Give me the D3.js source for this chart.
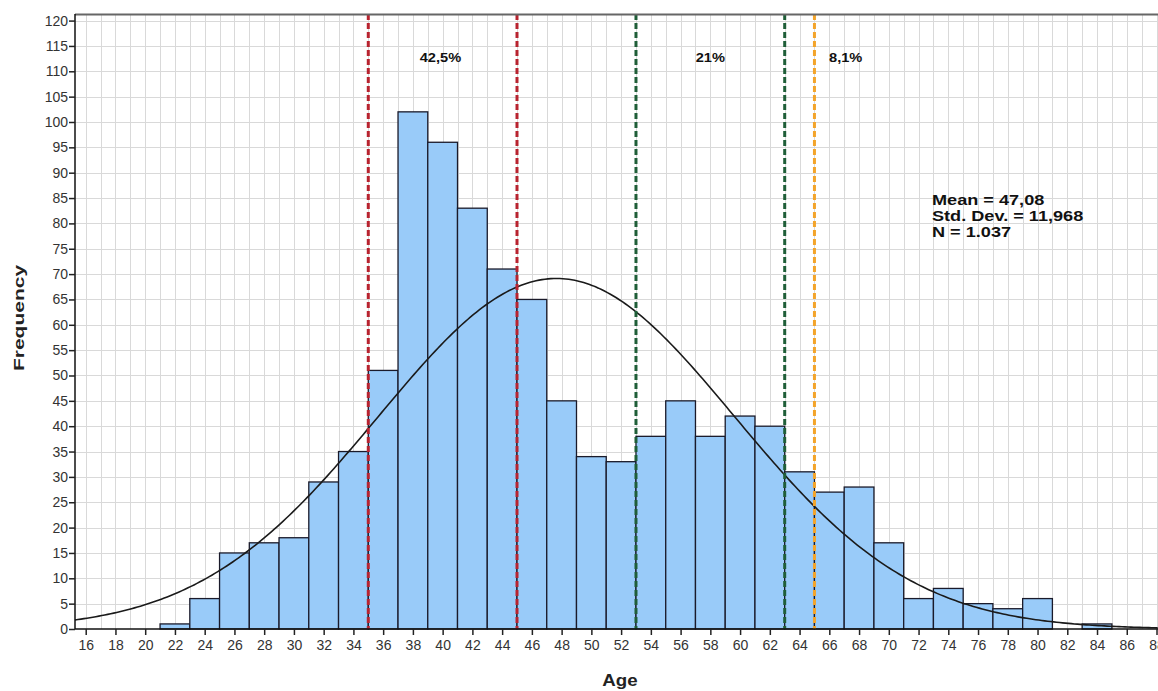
<!DOCTYPE html>
<html>
<head>
<meta charset="utf-8">
<script src="https://cdn.jsdelivr.net/npm/d3@7"></script>
<style>
  body { margin: 0; background: #fff; }
  svg { display: block; font-family: "Liberation Sans", Arial, sans-serif; }
</style>
</head>
<body>
<svg></svg>
<script>
// histogram bins (age, width 2) and their counts
let binStarts = [21, 23, 25, 27, 29, 31, 33, 35, 37, 39, 41, 43, 45, 47, 49, 51, 53, 55, 57, 59, 61, 63, 65, 67, 69, 71, 73, 75, 77, 79, 81, 83];
let counts = [1, 6, 15, 17, 18, 29, 35, 51, 102, 96, 83, 71, 65, 45, 34, 33, 38, 45, 38, 42, 40, 31, 27, 28, 17, 6, 8, 5, 4, 6, 0, 1];
let binWidth = 2;

let mean = 47.08;
let stdDev = 11.968;
let n = 1037;
let statLines = ['Mean = 47,08', 'Std. Dev. = 11,968', 'N = 1.037'];
// the drawn curve peaks a bit right of the printed mean in the picture
let curvePeak = 47.65;

// reference lines and the shares written between them
let refLines = [
    { age: 35, color: '#b8232f' },
    { age: 45, color: '#b8232f' },
    { age: 53, color: '#1f5e38' },
    { age: 63, color: '#1f5e38' },
    { age: 65, color: '#f3a42a' }
];
let shareLabels = [
    { age: 39.85, text: '42,5%' },
    { age: 58.0, text: '21%' },
    { age: 67.1, text: '8,1%' }
];

let xTicks = d3.range(16, 89, 2);
let yTicks = d3.range(0, 121, 5);

let width = 1158;
let height = 691;
let plotLeft = 75, plotRight = 1158, plotTop = 14, plotBottom = 629;
let stretch = 1.22; // text in the picture is drawn wide

let svg = d3.select('svg').attr('width', width).attr('height', height);

let xScale = d3.scaleLinear().domain([15.28, 88.1]).range([plotLeft, plotRight]);
let yScale = d3.scaleLinear().domain([0, 121.3]).range([plotBottom, plotTop]);

// grid: vertical every year, horizontal every 5
let grid = svg.append('g').attr('stroke', '#d9d9d9').attr('stroke-width', 1);
grid.selectAll('line.v')
    .data(d3.range(16, 89, 1))
    .enter().append('line')
    .attr('x1', d => Math.round(xScale(d)) + 0.5)
    .attr('x2', d => Math.round(xScale(d)) + 0.5)
    .attr('y1', plotTop).attr('y2', plotBottom);
grid.selectAll('line.h')
    .data(yTicks.filter(d => d > 0))
    .enter().append('line')
    .attr('x1', plotLeft).attr('x2', plotRight)
    .attr('y1', d => Math.round(yScale(d)) + 0.5)
    .attr('y2', d => Math.round(yScale(d)) + 0.5);

// bars
svg.append('g').selectAll('rect')
    .data(binStarts.map((s, i) => ({ start: s, count: counts[i] })).filter(d => d.count > 0))
    .enter().append('rect')
    .attr('x', d => xScale(d.start))
    .attr('width', d => xScale(d.start + binWidth) - xScale(d.start))
    .attr('y', d => yScale(d.count))
    .attr('height', d => yScale(0) - yScale(d.count))
    .attr('fill', '#99cbf9')
    .attr('stroke', '#1a1a2a')
    .attr('stroke-width', 1.3);

// normal curve fitted from sd and N
let curveXs = d3.range(15.28, 88.11, 0.2);
let normal = x => n * binWidth / (stdDev * Math.sqrt(2 * Math.PI)) * Math.exp(-0.5 * Math.pow((x - curvePeak) / stdDev, 2));
svg.append('path')
    .datum(curveXs)
    .attr('d', d3.line().x(d => xScale(d)).y(d => yScale(normal(d))))
    .attr('fill', 'none')
    .attr('stroke', '#1a1a1a')
    .attr('stroke-width', 1.6);

// dashed reference lines
svg.append('g').selectAll('line')
    .data(refLines)
    .enter().append('line')
    .attr('x1', d => xScale(d.age)).attr('x2', d => xScale(d.age))
    .attr('y1', plotTop).attr('y2', plotBottom)
    .attr('stroke', d => d.color)
    .attr('stroke-width', 3)
    .attr('stroke-dasharray', '6,3');

svg.append('g').selectAll('text')
    .data(shareLabels)
    .enter().append('text')
    .attr('transform', d => 'translate(' + xScale(d.age) + ',62) scale(' + stretch + ',1)')
    .attr('text-anchor', 'middle')
    .attr('font-size', 12)
    .attr('font-weight', 'bold')
    .attr('fill', '#111')
    .text(d => d.text);

// frame
svg.append('line').attr('x1', plotLeft).attr('x2', plotRight).attr('y1', plotTop + 0.5).attr('y2', plotTop + 0.5)
    .attr('stroke', '#666').attr('stroke-width', 2);

// axes
let xAxis = d3.axisBottom(xScale).tickValues(xTicks).tickSize(6).tickSizeOuter(0);
let yAxis = d3.axisLeft(yScale).tickValues(yTicks).tickSize(6).tickSizeOuter(0);

let gx = svg.append('g').attr('transform', 'translate(0,' + plotBottom + ')').call(xAxis);
gx.select('.domain').attr('d', 'M' + plotLeft + ',0H' + plotRight).attr('stroke', '#111').attr('stroke-width', 1.5);
gx.selectAll('.tick line').attr('stroke', '#222').attr('stroke-width', 1.5);
gx.selectAll('.tick text').attr('font-size', 14).attr('fill', '#333').attr('dy', '0.85em')
    .attr('font-family', '"Liberation Sans", Arial, sans-serif');

let gy = svg.append('g').attr('transform', 'translate(' + plotLeft + ',0)').call(yAxis);
gy.select('.domain').attr('d', 'M0,' + plotTop + 'V' + plotBottom).attr('stroke', '#111').attr('stroke-width', 1.5);
gy.selectAll('.tick line').attr('stroke', '#222').attr('stroke-width', 1.5);
gy.selectAll('.tick text').attr('font-size', 14).attr('fill', '#333').attr('x', -7)
    .attr('font-family', '"Liberation Sans", Arial, sans-serif');

// axis titles
svg.append('text')
    .attr('transform', 'translate(620,686) scale(1.1,1)')
    .attr('text-anchor', 'middle')
    .attr('font-size', 17).attr('font-weight', 'bold').attr('fill', '#222')
    .text('Age');
svg.append('text')
    .attr('transform', 'translate(24,318) rotate(-90) scale(1.4,1)')
    .attr('text-anchor', 'middle')
    .attr('font-size', 15).attr('font-weight', 'bold').attr('fill', '#222')
    .text('Frequency');

// summary statistics
svg.append('g').selectAll('text')
    .data(statLines)
    .enter().append('text')
    .attr('transform', (d, i) => 'translate(932,' + (205 + i * 16) + ') scale(1.25,1)')
    .attr('font-size', 14.5).attr('font-weight', 'bold').attr('fill', '#111')
    .text(d => d);
</script>
</body>
</html>
